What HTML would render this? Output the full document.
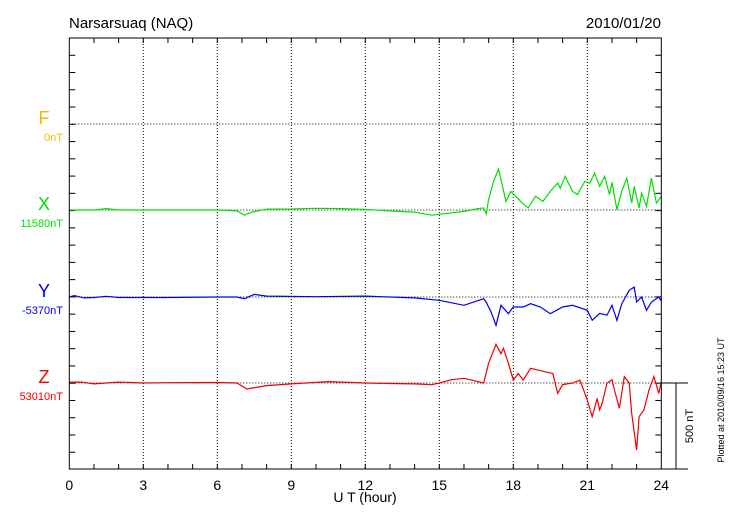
<!DOCTYPE html>
<html><head><meta charset="utf-8"><style>
body{margin:0;background:#fff;}
svg{display:block;font-family:"Liberation Sans",sans-serif;}
</style></head><body>
<svg id="chart" width="730" height="520" viewBox="0 0 730 520">
<text x="69" y="28" font-size="15">Narsarsuaq (NAQ)</text>
<text x="661" y="28" font-size="15" text-anchor="end">2010/01/20</text>
<g id="grid"></g>
<g id="series"></g>
<rect x="69.3" y="38" width="592" height="431" fill="none" stroke="#000" stroke-width="1"/>
<line x1="661" y1="469" x2="688" y2="469" stroke="#000"/>
<line x1="661" y1="383" x2="688" y2="383" stroke="#000"/>
<line x1="676" y1="383" x2="676" y2="469" stroke="#000"/>
<text transform="translate(693,426) rotate(-90)" font-size="11" text-anchor="middle">500 nT</text>
<text transform="translate(724,400) rotate(-90)" font-size="9" text-anchor="middle">Plotted at 2010/09/16 15:23 UT</text>
<text x="365" y="502" font-size="14" text-anchor="middle">U T (hour)</text>
<g id="labels"></g>
</svg>
<script>
const hourTicks=[0,3,6,9,12,15,18,21,24];
const channels=["F","X","Y","Z"];
const baselines=["0nT","11580nT","-5370nT","53010nT"];
const channelColors=["#f5b800","#00e000","#0000ee","#ee0000"];
const xHours=[0,0.5,1,1.5,2,3,4,5,6,6.8,7.1,7.4,8,9,10,11,12,13,14,14.7,15,16,16.5,16.8,16.9,17.0,17.2,17.4,17.5,17.7,17.9,18.1,18.3,18.6,18.9,19.2,19.5,19.8,19.9,20.1,20.4,20.6,20.9,21.1,21.3,21.5,21.7,21.9,22.0,22.2,22.4,22.6,22.8,22.9,23.1,23.2,23.4,23.6,23.8,24.0];
const xValues=[0,0,0,8,0,0,0,0,0,-5,-30,-12,5,6,10,8,3,-5,-12,-30,-25,-8,6,12,-23,60,166,237,176,50,108,79,50,12,79,50,108,156,125,195,108,89,166,156,214,137,195,89,160,2,110,185,40,137,12,98,21,185,40,79];
const yHours=[0,0.2,0.6,1,1.5,2,4,6,6.8,7.1,7.5,8,10,12,13,14,15,16,16.8,16.9,17.1,17.3,17.5,17.8,18.0,18.4,18.7,19.1,19.5,20.0,20.4,21.0,21.2,21.5,21.8,22.0,22.2,22.4,22.7,22.9,23.0,23.2,23.4,23.6,23.9,24.0];
const yValues=[0,8,-5,-3,4,-3,-3,0,0,-10,15,5,2,5,0,-5,-19,-48,-10,-30,-87,-164,-48,-97,-58,-58,-39,-58,-97,-58,-48,-77,-135,-95,-105,-48,-135,-39,39,58,-29,0,-77,-29,0,-23];
const zHours=[0,0.5,1,2,3,4,6,6.8,7.2,8,9,10.5,12,13,14,14.7,15,15.5,16,16.8,17.0,17.3,17.5,17.6,17.8,18.0,18.2,18.4,18.7,19.0,19.3,19.6,19.8,20.0,20.4,20.7,21.0,21.2,21.4,21.5,21.6,21.8,22.0,22.1,22.3,22.5,22.7,22.8,23.0,23.1,23.3,23.5,23.7,23.9,24.0];
const zValues=[5,5,-5,5,0,2,3,0,-35,-15,-5,8,0,-3,-5,-10,0,19,27,0,114,224,170,201,114,17,55,17,85,75,65,55,-60,-10,0,17,-98,-195,-90,-156,-118,0,19,-40,-147,37,0,-176,-388,-195,-156,-40,37,-60,8];
const X0=69.3,X1=661.3,PX=86.3/500;
const chanY=[124,210,297,383];
const sx=h=>X0+h*(X1-X0)/24;
const sy=(i,v)=>chanY[i]-v*PX;
const NS="http://www.w3.org/2000/svg";
function mk(t,a,p){const e=document.createElementNS(NS,t);for(const k in a)e.setAttribute(k,a[k]);p.appendChild(e);return e;}
const grid=document.getElementById('grid');
hourTicks.forEach(h=>{
  if(h>0&&h<24){const l=mk('line',{x1:sx(h),x2:sx(h),y1:38,y2:469,stroke:'#000','stroke-dasharray':'1,2','stroke-width':1},grid);
  
  }
  const t=mk('text',{x:sx(h),y:490,'font-size':14,'text-anchor':'middle'},grid);t.textContent=h;
  
  
});
for(let h=1;h<24;h++){mk('line',{x1:sx(h),x2:sx(h),y1:469,y2:464,stroke:'#000'},grid);mk('line',{x1:sx(h),x2:sx(h),y1:38,y2:43,stroke:'#000'},grid);}
for(let y=38+17.26;y<469;y+=17.26){mk('line',{x1:X0,x2:X0+6,y1:y,y2:y,stroke:'#000'},grid);mk('line',{x1:X1-6,x2:X1,y1:y,y2:y,stroke:'#000'},grid);}
chanY.forEach((y,i)=>{const l=mk('line',{x1:X0,x2:X1,y1:y,y2:y,stroke:'#000','stroke-dasharray':'1,2'},grid);
  
  });
const labels=document.getElementById('labels');
channels.forEach((c,i)=>{
  const t=mk('text',{x:44,y:chanY[i]-0,'font-size':18,'text-anchor':'middle',fill:channelColors[i]},labels);t.textContent=c;
  
  
  const b=mk('text',{x:63,y:chanY[i]+17,'font-size':11,'text-anchor':'end',fill:channelColors[i]},labels);b.textContent=baselines[i];
  
  
});
const ser=document.getElementById('series');
[[xHours,xValues,1],[yHours,yValues,2],[zHours,zValues,3]].forEach(([hs,vs,i])=>{
  const d=hs.map((h,k)=>(k?'L':'M')+sx(h).toFixed(1)+','+sy(i,vs[k]).toFixed(1)).join('');
  const p=mk('path',{d:d,fill:'none',stroke:channelColors[i],'stroke-width':1.2},ser);
  
  
});
</script>
</body></html>
